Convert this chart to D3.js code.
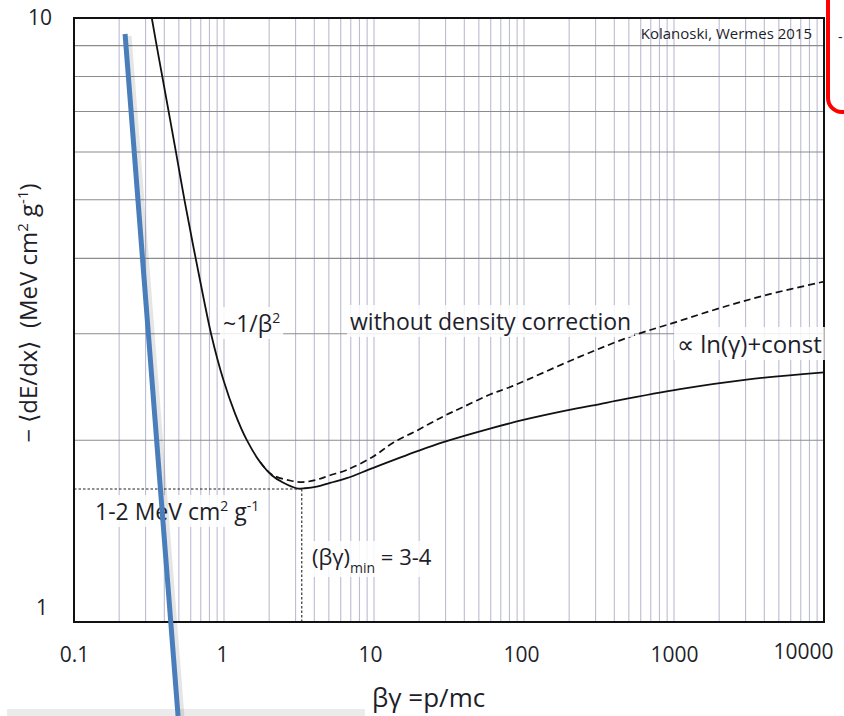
<!DOCTYPE html>
<html>
<head>
<meta charset="utf-8">
<script src="https://cdn.jsdelivr.net/npm/d3@7"></script>
<style>
    body { margin: 0; background: #fff; }
    text { font-family: "Open Sans", sans-serif; fill: #1e1e2a; }
</style>
</head>
<body>
<div id="chart"></div>
<script>
// Energy loss curve with density correction (beta*gamma, -<dE/dx>)
const bgWith = [0.330, 0.356, 0.390, 0.481, 0.548, 0.692, 0.828, 0.989, 1.18, 1.42, 1.74, 2.08, 2.49, 3.05, 3.47, 4.15, 5.09, 6.58, 9.9, 19.7, 29, 59.3, 98.9, 193, 321, 415, 1096, 3053, 10000];
const lossWith = [10, 8.99, 7.94, 5.95, 4.96, 3.68, 2.97, 2.52, 2.22, 2.00, 1.84, 1.75, 1.70, 1.665, 1.665, 1.675, 1.70, 1.73, 1.80, 1.92, 1.985, 2.09, 2.16, 2.24, 2.295, 2.325, 2.43, 2.52, 2.59];

// Without density correction (dashed)
const bgWithout = [1.74, 2.08, 2.75, 3.36, 4.15, 5.09, 6.58, 9.9, 13.4, 19.7, 29, 39.4, 59.3, 84.4, 236, 535, 1042, 2027, 4150, 10000];
const lossWithout = [1.84, 1.755, 1.715, 1.705, 1.72, 1.75, 1.785, 1.88, 1.98, 2.08, 2.19, 2.27, 2.38, 2.46, 2.75, 2.98, 3.14, 3.31, 3.48, 3.66];

const xTicks = [0.1, 1, 10, 100, 1000, 10000];
const xTickLabels = ["0.1", "1", "10", "100", "1000", "10000"];
const yTicks = [1, 10];
const yGrid = [2, 3, 4, 5, 6, 7, 8, 9];

// minimum ionisation marker
const minBg = 3.3;
const minLoss = 1.66;

// blue pen stroke drawn over the figure (two ends, in data units)
const penBg = [0.219, 0.494];
const penLoss = [9.41, 0.699];

const W = 844, H = 716;
const margin = { top: 18, right: 20, bottom: 94, left: 74 };

const svg = d3.select("#chart").append("svg")
    .attr("width", W)
    .attr("height", H);

svg.append("rect").attr("width", W).attr("height", H).attr("fill", "#fff");

const x = d3.scaleLog().domain([0.1, 10000]).range([margin.left, W - margin.right]);
const y = d3.scaleLog().domain([1, 10]).range([H - margin.bottom, margin.top]);

//Vertical grid lines (every 1..9 in each decade)
let xGrid = [];
for (let e = -1; e < 4; e++) {
    for (let k = 1; k < 10; k++) {
        xGrid.push(k * Math.pow(10, e));
    }
}
xGrid = xGrid.filter(d => d > 0.1);

svg.append("g").selectAll("line")
    .data(xGrid)
    .join("line")
    .attr("x1", d => x(d)).attr("x2", d => x(d))
    .attr("y1", y(10)).attr("y2", y(1))
    .attr("stroke", "#bcbcd4")
    .attr("stroke-width", 1.1);

//Horizontal grid lines
svg.append("g").selectAll("line")
    .data(yGrid)
    .join("line")
    .attr("x1", x(0.1)).attr("x2", x(10000))
    .attr("y1", d => y(d)).attr("y2", d => y(d))
    .attr("stroke", "#8c8c8c")
    .attr("stroke-width", 1.1);

//Curves
const line = d3.line()
    .x(d => x(d[0]))
    .y(d => y(d[1]))
    .curve(d3.curveCatmullRom.alpha(0.5));

svg.append("path")
    .datum(bgWithout.map((d, i) => [d, lossWithout[i]]))
    .attr("d", line)
    .attr("fill", "none")
    .attr("stroke", "#111")
    .attr("stroke-width", 1.7)
    .attr("stroke-dasharray", "7,4");

svg.append("path")
    .datum(bgWith.map((d, i) => [d, lossWith[i]]))
    .attr("d", line)
    .attr("fill", "none")
    .attr("stroke", "#111")
    .attr("stroke-width", 1.8);

//Dotted guide lines to the minimum
svg.append("line")
    .attr("x1", x(0.1)).attr("x2", x(minBg))
    .attr("y1", y(minLoss)).attr("y2", y(minLoss))
    .attr("stroke", "#222").attr("stroke-width", 1.1)
    .attr("stroke-dasharray", "2.5,2");
svg.append("line")
    .attr("x1", x(minBg)).attr("x2", x(minBg))
    .attr("y1", y(minLoss)).attr("y2", y(1))
    .attr("stroke", "#222").attr("stroke-width", 1.1)
    .attr("stroke-dasharray", "2.5,2");

//Frame
svg.append("rect")
    .attr("x", x(0.1)).attr("y", y(10))
    .attr("width", x(10000) - x(0.1))
    .attr("height", y(1) - y(10))
    .attr("fill", "none")
    .attr("stroke", "#111")
    .attr("stroke-width", 2);

//Axes (labels only)
const xAxis = svg.append("g")
    .attr("transform", `translate(0,${y(1)})`)
    .call(d3.axisBottom(x).tickValues(xTicks).tickFormat((d, i) => xTickLabels[i]).tickSize(0));
xAxis.select(".domain").remove();
xAxis.selectAll("text")
    .attr("y", 40).attr("dy", 0)
    .style("font-size", "21px")
    .style("font-family", "'Open Sans', sans-serif")
    .attr("fill", "#1e1e2a");
xAxis.selectAll(".tick").filter(d => d === 10000).select("text")
    .attr("text-anchor", "end").attr("x", 9).attr("y", 37);
xAxis.selectAll(".tick").filter(d => d === 0.1).select("text").attr("x", 0);
xAxis.selectAll(".tick").filter(d => d === 1).select("text").attr("x", -2);
xAxis.selectAll(".tick").filter(d => d === 10).select("text").attr("x", -4);
xAxis.selectAll(".tick").filter(d => d === 100).select("text").attr("x", -3);

const yAxis = svg.append("g")
    .attr("transform", `translate(${x(0.1)},0)`)
    .call(d3.axisLeft(y).tickValues(yTicks).tickFormat(d3.format("d")).tickSize(0));
yAxis.select(".domain").remove();
yAxis.selectAll("text")
    .style("font-size", "21px")
    .style("font-family", "'Open Sans', sans-serif")
    .attr("fill", "#1e1e2a");
yAxis.selectAll(".tick").filter(d => d === 10).select("text").attr("x", -22).attr("dy", "0.3em");
yAxis.selectAll(".tick").filter(d => d === 1).select("text").attr("x", -26).attr("dy", "-0.35em");

//Axis titles
svg.append("text")
    .attr("x", 372).attr("y", 707)
    .style("font-size", "26px")
    .text("βγ =p/mc");

const yTitle = svg.append("text")
    .attr("transform", "translate(37,313) rotate(-90)")
    .attr("text-anchor", "middle")
    .style("font-size", "24px");
yTitle.append("tspan").text("− ⟨dE/dx⟩  (MeV cm").attr("xml:space", "preserve");
yTitle.append("tspan").text("2").attr("dy", -9).style("font-size", "15px");
yTitle.append("tspan").text(" g").attr("dy", 9);
yTitle.append("tspan").text("-1").attr("dy", -9).style("font-size", "15px");
yTitle.append("tspan").text(")").attr("dy", 9);

//Annotations with white backing
function label(xp, yp, size, build) {
    const g = svg.append("g");
    const bg = g.append("rect").attr("fill", "#fff").attr("opacity", 0.85);
    const t = g.append("text").attr("x", xp).attr("y", yp).style("font-size", size + "px");
    build(t);
    const b = t.node().getBBox();
    bg.attr("x", b.x - 3).attr("y", b.y).attr("width", b.width + 6).attr("height", b.height);
    return t;
}

label(223, 332, 23, t => {
    t.append("tspan").text("~1/β");
    t.append("tspan").text("2").attr("dy", -9).style("font-size", "14px");
});
label(350, 330, 23, t => t.text("without density correction"));
label(677, 353, 24, t => t.text("∝ ln(γ)+const"));
label(95, 520, 23, t => {
    t.append("tspan").text("1-2 MeV cm");
    t.append("tspan").text("2").attr("dy", -9).style("font-size", "14px");
    t.append("tspan").text(" g").attr("dy", 9);
    t.append("tspan").text("-1").attr("dy", -9).style("font-size", "14px");
});
label(312, 565, 22, t => {
    t.append("tspan").text("(βγ)");
    t.append("tspan").text("min").attr("dy", 8).style("font-size", "14px");
    t.append("tspan").text(" = 3-4").attr("dy", -8).attr("xml:space", "preserve");
});

svg.append("text")
    .attr("x", 812).attr("y", 39)
    .attr("text-anchor", "end")
    .style("font-size", "15px")
    .text("Kolanoski, Wermes 2015");

//Overlay: grey strip at the bottom, blue pen stroke, red box edge
svg.append("rect")
    .attr("x", 7).attr("y", 709).attr("width", 358).attr("height", 8)
    .attr("fill", "#ebebeb");

svg.append("line")
    .attr("x1", x(penBg[0]) + 3).attr("y1", y(penLoss[0]) + 2)
    .attr("x2", x(penBg[1]) + 3).attr("y2", y(penLoss[1]) + 2)
    .attr("stroke", "#000").attr("stroke-opacity", 0.1)
    .attr("stroke-width", 7);
svg.append("line")
    .attr("x1", x(penBg[0])).attr("y1", y(penLoss[0]))
    .attr("x2", x(penBg[1])).attr("y2", y(penLoss[1]))
    .attr("stroke", "#4a7ebb")
    .attr("stroke-width", 5);

svg.append("rect")
    .attr("x", 828).attr("y", -30).attr("width", 60).attr("height", 142)
    .attr("rx", 14)
    .attr("fill", "#fff")
    .attr("stroke", "#f00")
    .attr("stroke-width", 4);
svg.append("text")
    .attr("x", 838).attr("y", 42)
    .style("font-size", "14px")
    .text("-");
</script>
</body>
</html>
